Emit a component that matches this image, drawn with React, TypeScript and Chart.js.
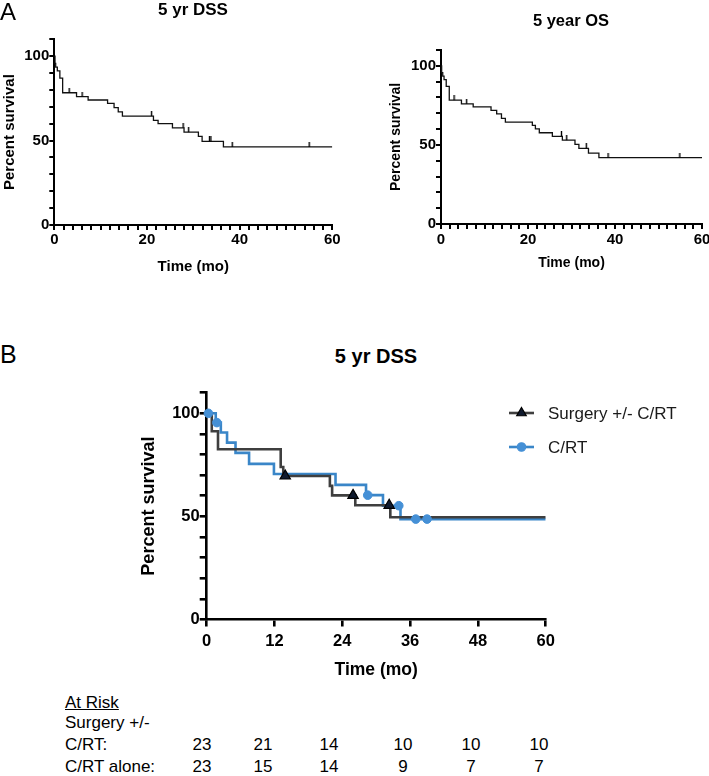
import React, { useEffect, useRef } from "react";
import { Chart, registerables } from "chart.js";

Chart.register(...registerables);

const FONT = '"Liberation Sans", Arial, Helvetica, sans-serif';

// ---------------- Panel A: 5 yr DSS ----------------
const dssTimes = [0, 0.15, 0.3, 0.65, 1.2, 1.8, 4.8, 7.3, 11.5, 12.9, 13.8, 14.7, 21.4, 22.4, 25.5, 28.0, 31.1, 31.9, 36.5, 60];
const dssSurv = [100, 95.7, 93.5, 91.3, 87.0, 78.3, 76.0, 74.0, 72.0, 69.5, 67.0, 64.5, 62.0, 60.0, 57.5, 55.0, 52.5, 49.5, 46.2, 46.2];
const dssCensor = [3.2, 6.0, 21.0, 27.8, 29.0, 33.5, 33.8, 38.4, 55.0];

// ---------------- Panel A: 5 year OS ----------------
const osTimes = [0, 0.15, 0.4, 0.7, 1.2, 1.9, 4.7, 7.4, 11.5, 12.8, 13.9, 14.8, 21.0, 21.7, 22.6, 25.6, 27.9, 30.8, 31.7, 33.9, 36.3, 60];
const osSurv = [100, 95.7, 93.5, 91.3, 87.0, 78.3, 76.0, 74.0, 71.8, 69.6, 66.8, 64.4, 62.3, 60.1, 57.7, 55.4, 53.0, 50.4, 47.8, 44.8, 41.9, 41.9];
const osCensor = [3.0, 5.9, 27.7, 28.9, 33.4, 38.4, 54.9];

// ---------------- Panel B: 5 yr DSS by treatment ----------------
const surgTimes = [0, 0.9, 2.0, 13.1, 13.55, 21.8, 22.2, 26.3, 32.5, 60];
const surgSurv = [100, 91.3, 82.6, 74.0, 69.6, 64.8, 60.2, 55.4, 49.6, 49.6];
const surgCensor = [13.9, 25.9, 32.3];

const crtTimes = [0, 1.6, 2.5, 3.6, 5.1, 7.5, 11.9, 22.8, 28.2, 31.2, 34.3, 60];
const crtSurv = [100, 95.5, 90.7, 85.8, 80.8, 75.5, 70.6, 65.3, 60.3, 55.2, 48.7, 48.7];
const crtCensor = [0.3, 1.8, 28.5, 34.0, 37.0, 39.0];

const legendLabels = ["Surgery +/- C/RT", "C/RT"];

// ---------------- At-risk table ----------------
const atRiskRowLabels = ["Surgery +/-", "C/RT:", "C/RT alone:"];
const surgAtRisk = [23, 21, 14, 10, 10, 10];
const crtAtRisk = [23, 15, 14, 9, 7, 7];

type Pt = { x: number; y: number };
const steps = (times: number[], surv: number[]): Pt[] => times.map((t, i) => ({ x: t, y: surv[i] }));
const survAt = (times: number[], surv: number[], t: number) => {
  let v = surv[0];
  for (let i = 0; i < times.length; i++) if (times[i] <= t) v = surv[i];
  return v;
};
const marks = (times: number[], surv: number[], cens: number[]): Pt[] =>
  cens.map((t) => ({ x: t, y: survAt(times, surv, t) }));

interface PanelOpts {
  left: number; top: number; width: number;
  plotTop: number; plotBottom: number; plotRight: number;
  yAxisWidth: number; xAxisHeight: number;
  xStep: number; xLabelEvery: number;
  tickFont: number; xTitleFont: number; yTitleFont: number;
  tickLen: number; axisW: number; xTickPad: number; yTitlePad: number;
}

const canvasHeight = (p: PanelOpts) => Math.round(p.plotBottom - p.top + p.xAxisHeight);

function buildOptions(p: PanelOpts): any {
  const h = canvasHeight(p);
  const padBottom = h - (p.plotBottom - p.top) - p.xAxisHeight;
  return {
    responsive: false,
    maintainAspectRatio: false,
    animation: false,
    events: [],
    layout: {
      padding: { left: 0, top: p.plotTop - p.top, right: p.left + p.width - p.plotRight, bottom: padBottom },
    },
    plugins: { legend: { display: false }, tooltip: { enabled: false }, title: { display: false } },
    scales: {
      x: {
        type: "linear",
        min: 0,
        max: 60,
        ticks: {
          stepSize: p.xStep,
          autoSkip: false,
          maxRotation: 0,
          color: "#000",
          padding: p.xTickPad,
          font: { family: FONT, size: p.tickFont, weight: "bold" },
          callback: (v: number) => (Math.round(v) % p.xLabelEvery === 0 ? String(Math.round(v)) : ""),
        },
        grid: { drawOnChartArea: false, drawTicks: true, tickLength: p.tickLen, tickColor: "#000", lineWidth: p.axisW, tickWidth: p.axisW },
        border: { display: true, color: "#000", width: p.axisW },
        title: {
          display: true,
          text: "Time (mo)",
          color: "#000",
          font: { family: FONT, size: p.xTitleFont, weight: "bold" },
          padding: { top: 0, bottom: 0 },
        },
        afterFit: (s: any) => {
          s.height = p.xAxisHeight;
          s.paddingLeft = 0; s.paddingRight = 0; s.paddingTop = 0; s.paddingBottom = 0;
        },
      },
      y: {
        type: "linear",
        min: 0,
        max: 110,
        ticks: {
          stepSize: 10,
          autoSkip: false,
          color: "#000",
          padding: 0,
          font: { family: FONT, size: p.tickFont, weight: "bold" },
          callback: (v: number) => ([0, 50, 100].includes(Math.round(v)) ? String(Math.round(v)) : ""),
        },
        grid: { drawOnChartArea: false, drawTicks: true, tickLength: p.tickLen, tickColor: "#000", lineWidth: p.axisW, tickWidth: p.axisW },
        border: { display: true, color: "#000", width: p.axisW },
        title: {
          display: true,
          text: "Percent survival",
          color: "#000",
          font: { family: FONT, size: p.yTitleFont, weight: "bold" },
          padding: { top: p.yTitlePad, bottom: 0 },
        },
        afterFit: (s: any) => {
          s.width = p.yAxisWidth;
          s.paddingLeft = 0; s.paddingRight = 0; s.paddingTop = 0; s.paddingBottom = 0;
        },
      },
    },
  };
}

const P1: PanelOpts = {
  left: 0, top: 0, width: 345,
  plotTop: 39.2, plotBottom: 225, plotRight: 332.3,
  yAxisWidth: 54.3, xAxisHeight: 51,
  xStep: 2, xLabelEvery: 20,
  tickFont: 15, xTitleFont: 15, yTitleFont: 15,
  tickLen: 5, axisW: 2, xTickPad: 1, yTitlePad: 1,
};
const P2: PanelOpts = {
  left: 370, top: 0, width: 339,
  plotTop: 50, plotBottom: 224, plotRight: 702,
  yAxisWidth: 71, xAxisHeight: 47.7,
  xStep: 2, xLabelEvery: 20,
  tickFont: 15, xTitleFont: 14, yTitleFont: 14,
  tickLen: 5, axisW: 2, xTickPad: 2, yTitlePad: 17.6,
};
const P3: PanelOpts = {
  left: 120, top: 380, width: 589,
  plotTop: 392.7, plotBottom: 619.5, plotRight: 545.7,
  yAxisWidth: 86.7, xAxisHeight: 61,
  xStep: 12, xLabelEvery: 12,
  tickFont: 16.5, xTitleFont: 17.5, yTitleFont: 18,
  tickLen: 7, axisW: 2.6, xTickPad: 4.6, yTitlePad: 18,
};

function makeTickImage(): HTMLCanvasElement {
  const c = document.createElement("canvas");
  c.width = 3;
  c.height = 10;
  const ctx = c.getContext("2d")!;
  ctx.fillStyle = "#000";
  ctx.fillRect(0.8, 0, 1.4, 5);
  return c;
}

const kmLegend = {
  id: "kmLegend",
  afterDraw(chart: any) {
    const ctx: CanvasRenderingContext2D = chart.ctx;
    const ds = chart.data.datasets;
    const rows = [
      { label: legendLabels[0], line: ds[2], mark: ds[0], y: 33 },
      { label: legendLabels[1], line: ds[3], mark: ds[1], y: 67 },
    ];
    const x0 = 389, x1 = 414, tx = 428;
    ctx.save();
    rows.forEach((r) => {
      ctx.strokeStyle = r.line.borderColor;
      ctx.lineWidth = r.line.borderWidth;
      ctx.beginPath();
      ctx.moveTo(x0, r.y);
      ctx.lineTo(x1, r.y);
      ctx.stroke();
      const cx = (x0 + x1) / 2;
      ctx.fillStyle = r.mark.backgroundColor;
      ctx.strokeStyle = r.mark.borderColor;
      ctx.lineWidth = 1.2;
      ctx.beginPath();
      if (r.mark.pointStyle === "triangle") {
        const rad = 5.5;
        for (let k = 0; k < 3; k++) {
          const a = (k * 2 * Math.PI) / 3;
          const px = cx + Math.sin(a) * rad;
          const py = r.y - Math.cos(a) * rad;
          if (k === 0) ctx.moveTo(px, py);
          else ctx.lineTo(px, py);
        }
        ctx.closePath();
      } else {
        ctx.arc(cx, r.y, 4.2, 0, Math.PI * 2);
      }
      ctx.fill();
      ctx.stroke();
      ctx.fillStyle = "#1a1a1a";
      ctx.font = `17px ${FONT}`;
      ctx.textBaseline = "middle";
      ctx.textAlign = "left";
      ctx.fillText(r.label, tx, r.y + 1);
    });
    ctx.restore();
  },
};

const Txt = (props: { x: number; y: number; size: number; bold?: boolean; center?: boolean; children: any; underline?: boolean; weight?: number }) => (
  <div
    style={{
      position: "absolute",
      left: props.x,
      top: props.y - props.size * 0.6,
      fontSize: props.size,
      lineHeight: `${props.size * 1.2}px`,
      fontWeight: props.weight ?? (props.bold ? 700 : 400),
      fontFamily: FONT,
      whiteSpace: "nowrap",
      transform: props.center ? "translateX(-50%)" : undefined,
      textDecoration: props.underline ? "underline" : undefined,
      color: "#000",
    }}
  >
    {props.children}
  </div>
);

export default function App() {
  const c1 = useRef<HTMLCanvasElement>(null);
  const c2 = useRef<HTMLCanvasElement>(null);
  const c3 = useRef<HTMLCanvasElement>(null);

  useEffect(() => {
    Chart.defaults.font.family = FONT;
    const tick = makeTickImage();
    const topLine = (times: number[], surv: number[]) => ({
      data: steps(times, surv),
      stepped: "before" as const,
      borderColor: "#111",
      borderWidth: 1.3,
      pointRadius: 0,
      fill: false,
    });
    const topMarks = (times: number[], surv: number[], cens: number[]) => ({
      data: marks(times, surv, cens),
      showLine: false,
      pointStyle: tick,
      pointRadius: 3,
      clip: false as const,
    });

    const charts: Chart[] = [];
    charts.push(
      new Chart(c1.current!, {
        type: "line",
        data: { datasets: [topMarks(dssTimes, dssSurv, dssCensor), topLine(dssTimes, dssSurv)] as any },
        options: buildOptions(P1),
      })
    );
    charts.push(
      new Chart(c2.current!, {
        type: "line",
        data: { datasets: [topMarks(osTimes, osSurv, osCensor), topLine(osTimes, osSurv)] as any },
        options: buildOptions(P2),
      })
    );
    charts.push(
      new Chart(c3.current!, {
        type: "line",
        data: {
          datasets: [
            {
              label: legendLabels[0] + " censored",
              data: marks(surgTimes, surgSurv, surgCensor),
              showLine: false,
              pointStyle: "triangle",
              pointRadius: 6,
              backgroundColor: "#0f1a2e",
              borderColor: "#000",
              borderWidth: 1.2,
              clip: false,
            },
            {
              label: legendLabels[1] + " censored",
              data: marks(crtTimes, crtSurv, crtCensor),
              showLine: false,
              pointStyle: "circle",
              pointRadius: 4.3,
              backgroundColor: "#4590d6",
              borderColor: "#4590d6",
              borderWidth: 1,
              clip: false,
            },
            {
              label: legendLabels[0],
              data: steps(surgTimes, surgSurv),
              stepped: "before",
              borderColor: "#3f3f3f",
              borderWidth: 2.6,
              pointRadius: 0,
              fill: false,
            },
            {
              label: legendLabels[1],
              data: steps(crtTimes, crtSurv),
              stepped: "before",
              borderColor: "#3a86c8",
              borderWidth: 2.6,
              pointRadius: 0,
              fill: false,
            },
          ] as any,
        },
        options: buildOptions(P3),
        plugins: [kmLegend],
      })
    );
    return () => charts.forEach((c) => c.destroy());
  }, []);

  const cv = (p: PanelOpts) => ({
    position: "absolute" as const,
    left: p.left,
    top: p.top,
    width: p.width,
    height: canvasHeight(p),
    display: "block",
  });

  const numCenters = [202, 263, 329, 403, 471, 539];

  return (
    <div style={{ position: "absolute", left: 0, top: 0, width: 709, height: 776, background: "#fff", overflow: "hidden" }}>
      <canvas ref={c1} width={P1.width} height={canvasHeight(P1)} style={cv(P1)} />
      <canvas ref={c2} width={P2.width} height={canvasHeight(P2)} style={cv(P2)} />
      <canvas ref={c3} width={P3.width} height={canvasHeight(P3)} style={cv(P3)} />

      <Txt x={0} y={12} size={24}>A</Txt>
      <Txt x={193} y={10} size={17} bold center>5 yr DSS</Txt>
      <Txt x={571} y={21} size={16.5} bold center>5 year OS</Txt>

      <Txt x={0} y={354} size={25}>B</Txt>
      <Txt x={376} y={356} size={20} bold center>5 yr DSS</Txt>

      <Txt x={65} y={703} size={17} underline>At Risk</Txt>
      <Txt x={65} y={723} size={17}>{atRiskRowLabels[0]}</Txt>
      <Txt x={65} y={745} size={17}>{atRiskRowLabels[1]}</Txt>
      <Txt x={65} y={767} size={17}>{atRiskRowLabels[2]}</Txt>
      {surgAtRisk.map((n, i) => (
        <Txt key={"s" + i} x={numCenters[i]} y={745} size={17} center>{n}</Txt>
      ))}
      {crtAtRisk.map((n, i) => (
        <Txt key={"c" + i} x={numCenters[i]} y={767} size={17} center>{n}</Txt>
      ))}
    </div>
  );
}
